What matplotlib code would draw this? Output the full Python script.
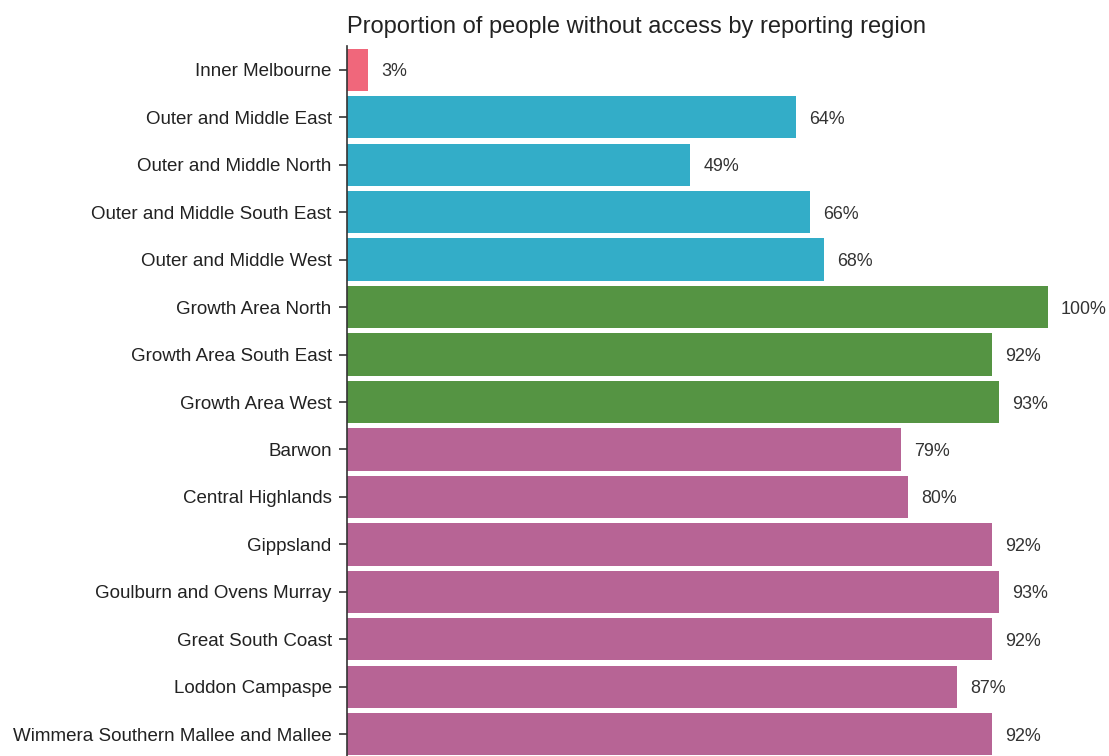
import matplotlib.pyplot as plt

plt.rcParams['font.family'] = ['Liberation Sans', 'DejaVu Sans']

# regions, top to bottom
regions = [
    "Inner Melbourne",
    "Outer and Middle East",
    "Outer and Middle North",
    "Outer and Middle South East",
    "Outer and Middle West",
    "Growth Area North",
    "Growth Area South East",
    "Growth Area West",
    "Barwon",
    "Central Highlands",
    "Gippsland",
    "Goulburn and Ovens Murray",
    "Great South Coast",
    "Loddon Campaspe",
    "Wimmera Southern Mallee and Mallee",
]
pct_no_access = [3, 64, 49, 66, 68, 100, 92, 93, 79, 80, 92, 93, 92, 87, 92]
groups = ["inner"] + ["outer"] * 4 + ["growth"] * 3 + ["regional"] * 7

group_colors = {
    "inner": "#f0677b",
    "outer": "#33adc8",
    "growth": "#559443",
    "regional": "#b76495",
}

fig = plt.figure(figsize=(11.09, 7.56), dpi=100)
ax = fig.add_axes([347 / 1109, -2 / 756, 701 / 1109, 712 / 756])

ypos = list(range(len(regions)))
ax.barh(ypos, pct_no_access, height=0.89,
        color=[group_colors[g] for g in groups])

# value labels just past the end of each bar
for y, v in zip(ypos, pct_no_access):
    ax.annotate(f"{v}%", xy=(v, y), xytext=(13, 0), textcoords="offset pixels",
                ha="left", va="center_baseline", fontsize=12.9, color="#333333",
                annotation_clip=False)

ax.set_xlim(0, 100)
ax.set_ylim(len(regions) - 0.5, -0.5)
ax.set_yticks(ypos)
ax.set_yticklabels(regions, fontsize=13.5, color="#222222")
ax.set_xticks([])
for side in ["top", "right", "bottom"]:
    ax.spines[side].set_visible(False)
ax.spines["left"].set_color("#333333")
ax.spines["left"].set_linewidth(1.2)
ax.tick_params(axis="y", length=6, width=1.2, color="#333333", pad=5)

fig.text(347 / 1109, 1 - 33 / 756,
         "Proportion of people without access by reporting region",
         ha="left", va="baseline", fontsize=17, color="#222222")

fig.savefig("out.png", dpi=100)
